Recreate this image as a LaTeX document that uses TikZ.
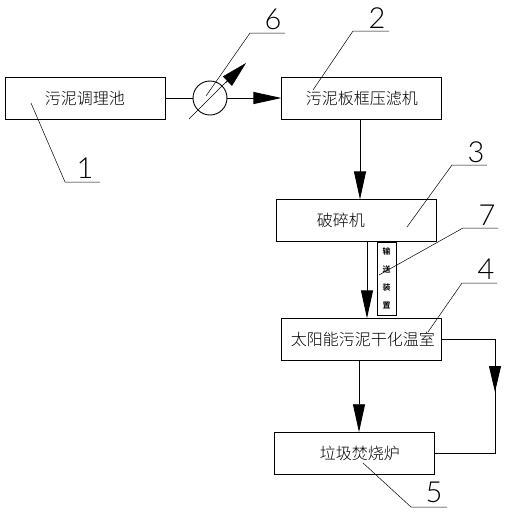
\documentclass[tikz,border=0pt]{standalone}
\usepackage{fontspec}
\setmainfont{Lato Light}
\newfontfamily\cjk{Noto Sans CJK SC Light}
\usetikzlibrary{arrows.meta,positioning,calc}
\tikzset{
  block/.style={draw,line width=0.9pt,minimum width=160pt,minimum height=42pt,inner sep=0pt,font=\cjk\fontsize{16}{18}\selectfont},
  flowarrow/.style={-{Triangle[length=28pt,width=12pt]},line width=0.9pt},
  plainline/.style={line width=0.9pt},
  leader/.style={line width=0.5pt},
  partno/.style={inner sep=0pt,font=\fontsize{29}{29}\selectfont}
}
\begin{document}
\begin{tikzpicture}[x=1pt,y=-1pt]
\useasboundingbox (0,0) rectangle (506,515);
\node[block] (tank) at (85,98) {污泥调理池};
\node[block, right=116pt of tank] (press) {污泥板框压滤机};
\node[block, below=80pt of press, xshift=-5pt] (crusher) {\hspace{-32pt}破碎机};
\node[block, below=76pt of crusher, xshift=5pt] (room) {\hspace{2pt}太阳能污泥干化温室};
\node[block, below=71pt of room, xshift=-7pt] (furnace) {\hspace{10pt}垃圾焚烧炉};
\node[draw, line width=0.9pt, minimum width=19pt, minimum height=73pt, inner sep=0pt, align=center, font=\cjk\bfseries\fontsize{8}{18}\selectfont] (conveyor) at (386.5,278.5) {输\\送\\装\\置};

\node[draw, circle, line width=0.9pt, minimum size=34pt, inner sep=0pt] (pump) at (210,98) {};
\coordinate (pumpa) at (189,119);
\coordinate (pumpb) at (228,80);
\coordinate (pumptip) at (246,63);
\coordinate (bendx) at (495,0);
\draw[leader] (pumpa) -- (pumpb);
\draw[-{Triangle[length=26pt,width=13pt]}, line width=0.5pt] (225.5,83) -- (pumptip);

\draw[plainline] (tank) -- (pump);
\draw[flowarrow] (pump) -- (press);
\draw[flowarrow] (press.south -| 360,0) -- (crusher.north -| 360,0);
\draw[flowarrow] (crusher.south -| 367,0) -- (room.north -| 367,0);
\draw[flowarrow] (room.south -| 359,0) -- (furnace.north -| 359,0);
\draw[plainline] (room.east) -- (room.east -| bendx) -- (furnace.east -| bendx) -- (furnace.east);
\draw[-{Triangle[length=26pt,width=12pt]}, plainline] (room.east -| bendx) -- (495,392);

% part numbers
\node[partno] (no1) at (85,168) {1};
\node[partno] (no2) at (377,18) {2};
\node[partno] (no3) at (476,152) {3};
\node[partno] (no4) at (486,269) {4};
\node[partno] (no5) at (434,492) {5};
\node[partno] (no6) at (273,19) {6};
\node[partno] (no7) at (487,215) {7};
\draw[leader] (31,103) -- (65,182) -- (100,182);
\draw[leader] (313,90) -- (353,31) -- (389,31);
\draw[leader] (407,227) -- (452,165) -- (487,165);
\draw[leader] (428,332) -- (462,283) -- (497,283);
\draw[leader] (363,463) -- (411,507) -- (447,507);
\draw[leader] (206,96) -- (250,33) -- (285,33);
\draw[leader] (379,275) -- (463,228) -- (498,228);
\end{tikzpicture}
\end{document}
